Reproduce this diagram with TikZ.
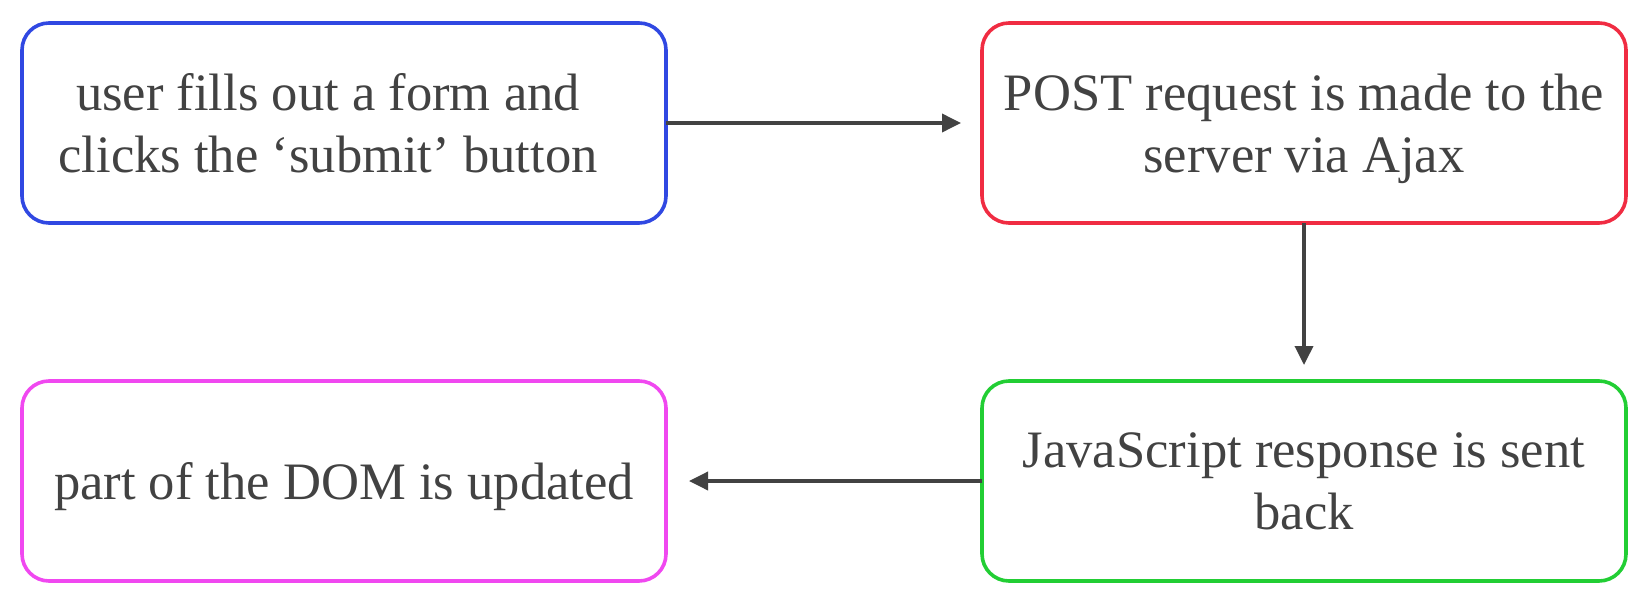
\documentclass[tikz,border=0pt]{standalone}
\usepackage{fontspec}
\setmainfont{Liberation Serif}
\usetikzlibrary{positioning,arrows.meta}
\definecolor{boxblue}{RGB}{48,72,226}
\definecolor{boxred}{RGB}{240,44,66}
\definecolor{boxgreen}{RGB}{34,206,52}
\definecolor{boxpink}{RGB}{240,72,240}
\definecolor{inkgray}{RGB}{66,66,66}
\begin{document}
\begin{tikzpicture}[x=1pt,y=1pt,
        flowbox/.style={draw, rounded corners=13.5pt, line width=1.8pt, minimum width=322pt, minimum height=100pt,
            outer sep=0pt, align=center, text depth=0pt, text=inkgray, font=\fontsize{26.3}{31}\selectfont},
        flowarrow/.style={draw=inkgray, line width=1.8pt, -{Triangle[length=9.5pt,width=9pt]}}]
    \useasboundingbox (0,0) rectangle (826,-305);
    \node[flowbox, draw=boxblue] (user) at (172,-61.5) {user fills out a form and\hspace*{16pt}\\clicks the ‘submit’ button\hspace*{16pt}};
    \node[flowbox, draw=boxred, right=158pt of user] (post) {POST request is made to the\\server via Ajax};
    \node[flowbox, draw=boxgreen, below=79pt of post] (js) {JavaScript response is sent\\back};
    \node[flowbox, draw=boxpink, left=158pt of js] (dom) {part of the DOM is updated};
    \draw[flowarrow, shorten >=10.5pt] (user) -- (post);
    \draw[flowarrow, shorten >=8pt] (post) -- (js);
    \draw[flowarrow, shorten >=11.5pt] (js) -- (dom);
\end{tikzpicture}
\end{document}
